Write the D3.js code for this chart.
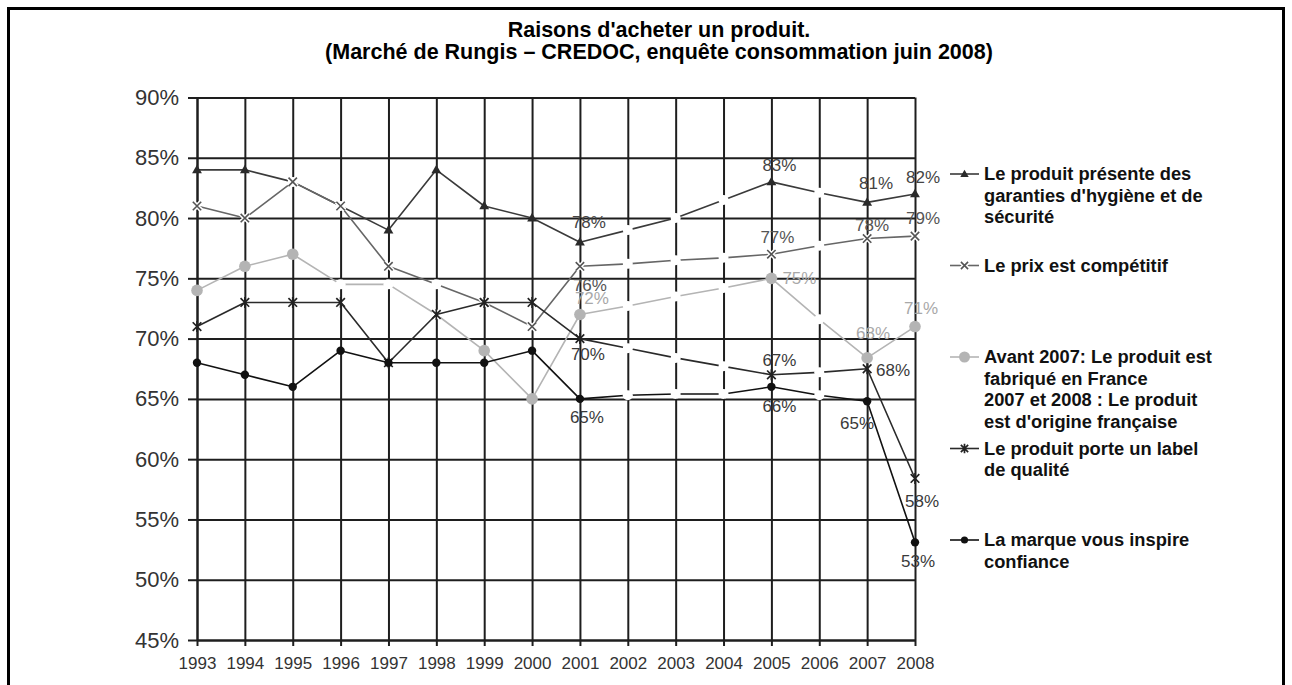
<!DOCTYPE html>
<html>
<head>
<meta charset="utf-8">
<script src="https://cdn.jsdelivr.net/npm/d3@7"></script>
<style>
  html, body { margin: 0; padding: 0; background: #fff; }
  svg { display: block; }
  text { font-family: "Liberation Sans", Arial, sans-serif; }
</style>
</head>
<body>
<svg id="chart" width="1292" height="685"></svg>
<script>
// ---------------- DATA ----------------
const years = ["1993","1994","1995","1996","1997","1998","1999","2000","2001","2002","2003","2004","2005","2006","2007","2008"];
const yTicks = [45, 50, 55, 60, 65, 70, 75, 80, 85, 90];
const labelYears = ["2001", "2005", "2007", "2008"];

const hygiene = [84, 84, 83, 81, 79, 84, 81, 80, 78, 79, 80, 81.5, 83, 82.1, 81.3, 82];
const prix    = [81, 80, 83, 81, 76, 74.5, 73, 71, 76, 76.2, 76.5, 76.7, 77, 77.7, 78.3, 78.5];
const france  = [74, 76, 77, 74.5, 74.5, 72, 69, 65, 72, 72.7, 73.5, 74.2, 75, 71.6, 68.4, 71];
const qualite = [71, 73, 73, 73, 68, 72, 73, 73, 70, 69.2, 68.4, 67.7, 67, 67.2, 67.5, 58.4];
const marque  = [68, 67, 66, 69, 68, 68, 68, 69, 65, 65.3, 65.4, 65.4, 66, 65.3, 64.8, 53.1];

const legendLines = [
  ["Le produit présente des", "garanties d'hygiène et de", "sécurité"],
  ["Le prix est compétitif"],
  ["Avant 2007: Le produit est", "fabriqué en France", "2007 et 2008 : Le produit", "est d'origine française"],
  ["Le produit porte un label", "de qualité"],
  ["La marque vous inspire", "confiance"]
];
const titleLines = ["Raisons d'acheter un produit.", "(Marché de Rungis – CREDOC, enquête consommation juin 2008)"];

// ---------------- STYLE / LAYOUT ----------------
const noMarkYears = ["2002", "2003", "2004", "2006"];
const series = [
  { values: hygiene, line: "#3a3a3a", marker: "triangle", mcolor: "#2a2a2a", lcolor: "#444",
    hidden: ["1995", "1996"], offsets: [[9,-20],[8,-17],[9,-20],[8,-17]] },
  { values: prix, line: "#666", marker: "x", mcolor: "#555", lcolor: "#555",
    hidden: ["1998"], offsets: [[10,19],[6,-17],[5,-14],[8,-18]] },
  { values: france, line: "#b4b4b4", marker: "circle", mcolor: "#b4b4b4", lcolor: "#a8a8a8",
    hidden: ["1996", "1997", "1998"], offsets: [[12,-17],[28,0],[6,-25],[6,-19]] },
  { values: qualite, line: "#2a2a2a", marker: "star", mcolor: "#222", lcolor: "#3a3a3a",
    hidden: [], offsets: [[8,15],[8,-15],[26,1],[7,22]] },
  { values: marque, line: "#111", marker: "dot", mcolor: "#111", lcolor: "#3a3a3a",
    hidden: [], offsets: [[7,18],[8,19],[-10,22],[3,19]] }
];

const svg = d3.select("#chart");
const W = 1292, H = 685;
const x0 = 197, x1 = 915, yTop = 97.5, yBot = 640;

const x = d3.scalePoint().domain(years).range([x0, x1]);
const y = d3.scaleLinear().domain([45, 90]).range([yBot, yTop]);

// outer frame
svg.append("rect").attr("x", 8.5).attr("y", 8.5).attr("width", 1275).attr("height", 700)
  .attr("fill", "none").attr("stroke", "#000").attr("stroke-width", 3);

// title
svg.selectAll("text.title").data(titleLines).enter().append("text")
  .attr("class", "title")
  .attr("x", 659).attr("y", (d, i) => 37 + i * 21.5)
  .attr("text-anchor", "middle")
  .attr("font-size", "21.5px").attr("font-weight", "bold").attr("fill", "#000")
  .text(d => d);

// grid
const gridColor = "#1e1e1e";
const gy = svg.append("g").attr("transform", `translate(${x0},0)`)
  .call(d3.axisLeft(y).tickValues(yTicks).tickSize(-(x1 - x0)).tickFormat(""));
const gx = svg.append("g").attr("transform", `translate(0,${yBot})`)
  .call(d3.axisBottom(x).tickSize(-(yBot - yTop)).tickFormat(""));
[gy, gx].forEach(g => {
  g.select(".domain").remove();
  g.selectAll(".tick line").attr("stroke", gridColor).attr("stroke-width", 2);
});

// axes with outer ticks + labels
const ay = svg.append("g").attr("transform", `translate(${x0},0)`)
  .call(d3.axisLeft(y).tickValues(yTicks).tickSize(9).tickSizeOuter(0).tickPadding(9).tickFormat(d => d + "%"));
const ax = svg.append("g").attr("transform", `translate(0,${yBot})`)
  .call(d3.axisBottom(x).tickSize(6).tickSizeOuter(0).tickPadding(11));
[ay, ax].forEach(g => {
  g.select(".domain").attr("stroke", gridColor).attr("stroke-width", 2);
  g.selectAll(".tick line").attr("stroke", gridColor).attr("stroke-width", 2);
  g.selectAll(".tick text").attr("fill", "#333").style("font-family", '"Liberation Sans", Arial, sans-serif');
});
ay.selectAll(".tick text").attr("font-size", "22px");
ax.selectAll(".tick text").attr("font-size", "17px");

// marker drawing
function drawMarker(g, type, color, px, py, scale) {
  const s = scale || 1;
  if (type === "triangle") {
    g.append("path").attr("d", d3.symbol(d3.symbolTriangle, 42 * s * s)())
      .attr("transform", `translate(${px},${py + 0.5})`).attr("fill", color);
  } else if (type === "x") {
    const a = 4.2 * s;
    const d = `M${-a},${-a}L${a},${a}M${-a},${a}L${a},${-a}`;
    g.append("path").attr("d", d).attr("transform", `translate(${px},${py})`)
      .attr("stroke", "#fff").attr("stroke-width", 4.5).attr("fill", "none");
    g.append("path").attr("d", d).attr("transform", `translate(${px},${py})`)
      .attr("stroke", color).attr("stroke-width", 1.6).attr("fill", "none");
  } else if (type === "circle") {
    g.append("circle").attr("cx", px).attr("cy", py).attr("r", 5.8 * s).attr("fill", color);
  } else if (type === "star") {
    const a = 4.3 * s, b = 5.5 * s;
    const d = `M${-a},${-a}L${a},${a}M${-a},${a}L${a},${-a}M0,${-b}V${b}`;
    g.append("path").attr("d", d).attr("transform", `translate(${px},${py})`)
      .attr("stroke", color).attr("stroke-width", 1.7).attr("fill", "none");
  } else if (type === "dot") {
    g.append("circle").attr("cx", px).attr("cy", py).attr("r", 4.2 * s).attr("fill", color);
  }
}

// series
const line = d3.line().x(d => x(d.year)).y(d => y(d.v));
series.forEach(s => {
  const g = svg.append("g");
  const pts = years.map((yr, i) => ({ year: yr, v: s.values[i] }));
  g.append("path").datum(pts).attr("d", line)
    .attr("fill", "none").attr("stroke", s.line).attr("stroke-width", 1.6).attr("stroke-linejoin", "round");
  pts.forEach(p => {
    const hidden = noMarkYears.includes(p.year) || s.hidden.includes(p.year);
    if (hidden) {
      g.append("circle").attr("cx", x(p.year)).attr("cy", y(p.v)).attr("r", 5).attr("fill", "#fff");
    } else {
      drawMarker(g, s.marker, s.mcolor, x(p.year), y(p.v));
    }
  });
});

// data labels
series.forEach(s => {
  labelYears.forEach((yr, k) => {
    const i = years.indexOf(yr);
    const v = s.values[i];
    const [dx, dy] = s.offsets[k];
    svg.append("text")
      .attr("x", x(yr) + dx).attr("y", y(v) + dy)
      .attr("dy", "0.36em")
      .attr("text-anchor", "middle")
      .attr("font-size", "17px").attr("fill", s.lcolor)
      .text(Math.round(v) + "%");
  });
});

// legend
const legX = 950, legTop = 174, legStep = 91.5, lineH = 21.5;
series.forEach((s, i) => {
  const cy = legTop + i * legStep;
  const g = svg.append("g");
  g.append("line").attr("x1", legX).attr("x2", legX + 29).attr("y1", cy).attr("y2", cy)
    .attr("stroke", s.line).attr("stroke-width", 1.6);
  drawMarker(g, s.marker, s.mcolor, legX + 14.5, cy, s.marker === "circle" ? 0.95 : 0.85);
  g.selectAll("text").data(legendLines[i]).enter().append("text")
    .attr("x", legX + 34).attr("y", (d, j) => cy + j * lineH)
    .attr("dy", "0.35em")
    .attr("font-size", "18.3px").attr("font-weight", "bold").attr("fill", "#111")
    .text(d => d);
});
</script>
</body>
</html>
